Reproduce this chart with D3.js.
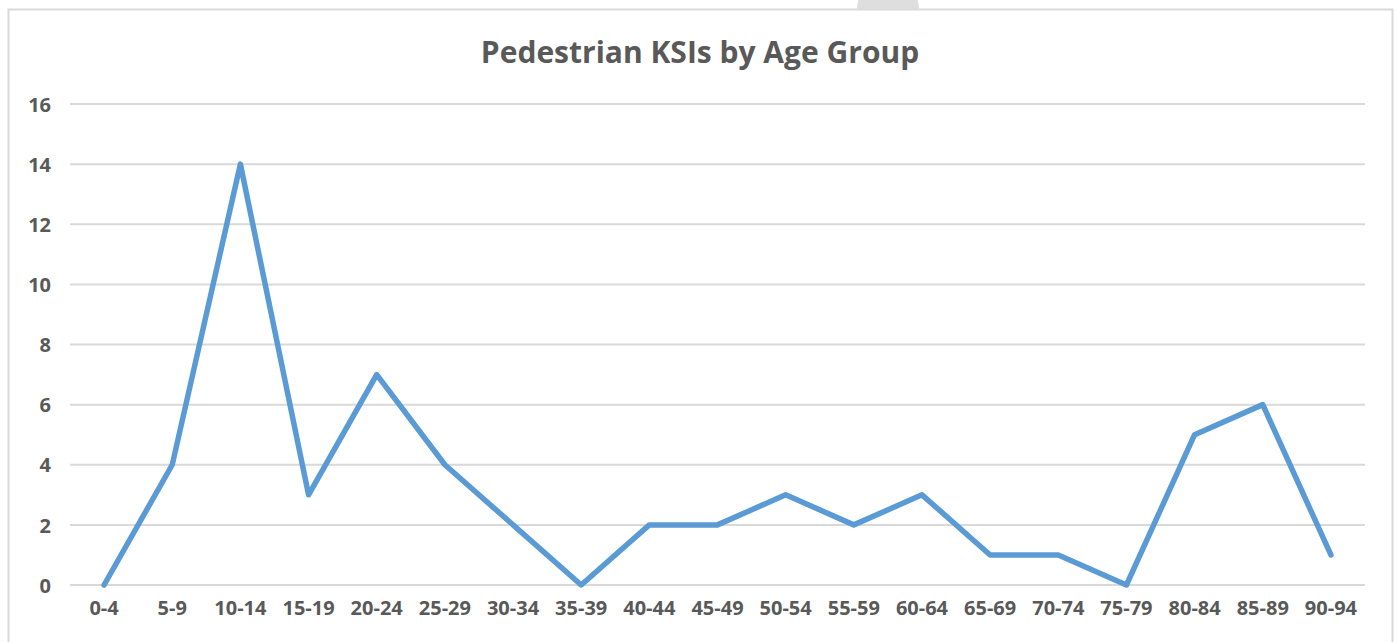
<!DOCTYPE html>
<html>
<head>
<meta charset="utf-8">
<script src="https://cdn.jsdelivr.net/npm/d3@7"></script>
<style>
  body { margin: 0; background: #fff; }
  text { font-family: "Open Sans", Lato, sans-serif; font-weight: bold; fill: #595959; }
</style>
</head>
<body>
<div id="chart"></div>
<script>
let width = 1397, height = 642;

// data
let ageGroups = ["0-4", "5-9", "10-14", "15-19", "20-24", "25-29", "30-34", "35-39", "40-44",
    "45-49", "50-54", "55-59", "60-64", "65-69", "70-74", "75-79", "80-84", "85-89", "90-94"];
let ksis = [0, 4, 14, 3, 7, 4, 2, 0, 2, 2, 3, 2, 3, 1, 1, 0, 5, 6, 1];
let yTicks = [0, 2, 4, 6, 8, 10, 12, 14, 16];

let svg = d3.select("#chart").append("svg")
    .attr("width", width)
    .attr("height", height);

// chart frame
svg.append("rect")
    .attr("x", 8.5).attr("y", 9.5)
    .attr("width", 1384).attr("height", 660)
    .attr("fill", "#fff")
    .attr("stroke", "#d9d9d9")
    .attr("stroke-width", 2);

// little grey handle on top of the frame
svg.append("path")
    .attr("d", "M857,9 A31,31 0 0 1 919,9 Z")
    .attr("fill", "#dedede");

let x = d3.scaleBand()
    .domain(ageGroups)
    .range([70, 1365]);

let y = d3.scaleLinear()
    .domain([0, 16])
    .range([585, 104]);

// gridlines
svg.append("g")
    .selectAll("line")
    .data(yTicks)
    .enter().append("line")
    .attr("x1", 70).attr("x2", 1365)
    .attr("y1", d => y(d)).attr("y2", d => y(d))
    .attr("stroke", "#d9d9d9")
    .attr("stroke-width", 2);

// y axis labels
let yAxis = svg.append("g")
    .attr("transform", "translate(51,0)")
    .call(d3.axisLeft(y).tickValues(yTicks).tickSize(0).tickPadding(0));
yAxis.select(".domain").remove();
yAxis.selectAll("text").style("font-size", "20px").attr("dy", "0.36em");

// x axis labels
let xAxis = svg.append("g")
    .attr("transform", "translate(0,601)")
    .call(d3.axisBottom(x).tickSize(0).tickPadding(0));
xAxis.select(".domain").remove();
xAxis.selectAll("text").style("font-size", "20px");

// title
svg.append("text")
    .attr("x", 700).attr("y", 63)
    .attr("text-anchor", "middle")
    .style("font-size", "30px")
    .text("Pedestrian KSIs by Age Group");

let line = d3.line()
    .x((d, i) => x(ageGroups[i]) + x.bandwidth() / 2)
    .y(d => y(d));

svg.append("path")
    .datum(ksis)
    .attr("d", line)
    .attr("fill", "none")
    .attr("stroke", "#5b9bd5")
    .attr("stroke-width", 5.5)
    .attr("stroke-linejoin", "round")
    .attr("stroke-linecap", "round");
</script>
</body>
</html>
